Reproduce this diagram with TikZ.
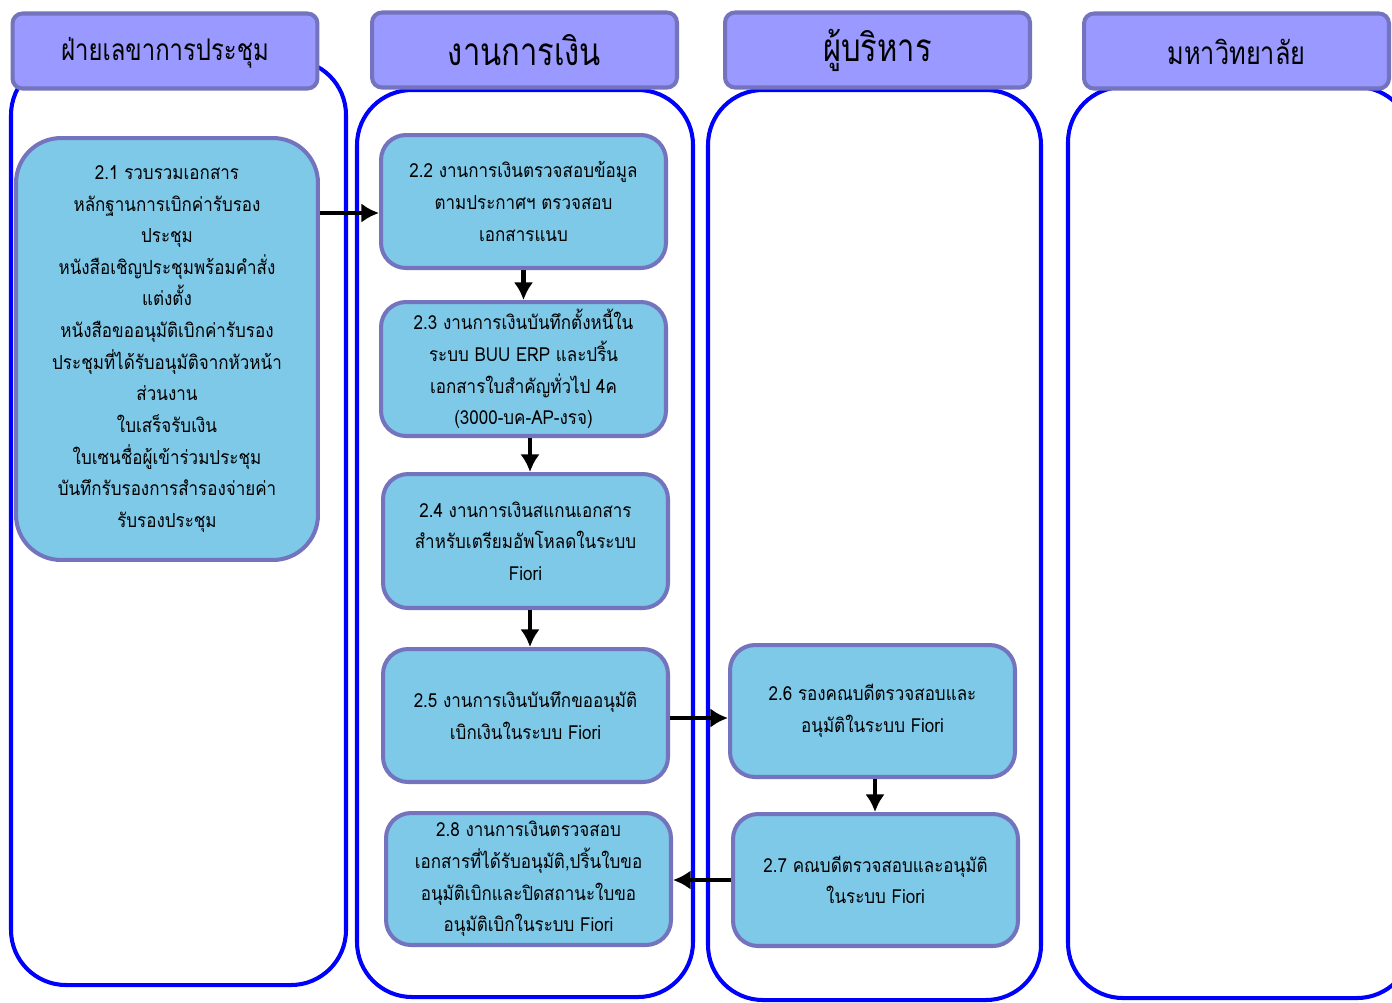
\documentclass[tikz,border=0pt]{standalone}
\usepackage{fontspec}
\setmainfont[Script=Thai, FakeStretch=0.88]{Loma}
\newfontfamily\headfont[Script=Thai, FakeStretch=0.8]{Loma}
\usepackage{tikz}
\usetikzlibrary{arrows.meta}

\definecolor{taskfill}{RGB}{126,200,232}
\definecolor{taskline}{RGB}{115,115,190}
\definecolor{headfill}{RGB}{153,153,255}
\definecolor{laneline}{RGB}{0,0,255}

\begin{document}
\begin{tikzpicture}[x=0.02cm, y=-0.02cm, >={Latex[length=10pt,width=11pt]},
    lane/.style={draw=laneline, line width=2.3pt, rounded corners=1.1cm},
    head/.style={rectangle, draw=taskline, fill=headfill, line width=2.3pt, rounded corners=0.2cm, minimum width=6.1cm, minimum height=1.5cm, align=center},
    task/.style={rectangle, draw=taskline, fill=taskfill, line width=2.3pt, rounded corners=0.5cm, minimum width=5.7cm, minimum height=2.6cm, align=center, font=\fontsize{11}{18}\selectfont},
    arr/.style={->, line width=2.5pt}]

    \useasboundingbox (0,0) rectangle (1392,1002);
    \clip (0,0) rectangle (1392,1002);

    % Swim lanes first (behind everything)
    \draw[lane] (11,60) rectangle (346,985);
    \draw[lane] (357,90) rectangle (693,997);
    \draw[lane] (708,90) rectangle (1041,1000);
    \draw[lane] (1068,87) rectangle (1412,998);

    % Lane headers
    \node[head, text height=0.55cm, font=\headfont\fontsize{17}{20}\selectfont] (hsec) at (165,51) {ฝ่ายเลขาการประชุม};
    \node[head, font=\headfont\fontsize{22}{24}\selectfont] (hfin) at (524.5,50) {งานการเงิน};
    \node[head, font=\headfont\fontsize{22}{24}\selectfont] (hexe) at (877.5,50) {ผู้บริหาร};
    \node[head, text height=0.55cm, font=\headfont\fontsize{18}{20}\selectfont] (huni) at (1236.5,51) {มหาวิทยาลัย};

    % Steps
    \node[task, rounded corners=0.9cm, minimum width=6.04cm, minimum height=8.44cm] (s21) at (167,349) {2.1 รวบรวมเอกสาร\\หลักฐานการเบิกค่ารับรอง\\ประชุม\\หนังสือเชิญประชุมพร้อมคำสั่ง\\แต่งตั้ง\\หนังสือขออนุมัติเบิกค่ารับรอง\\ประชุมที่ได้รับอนุมัติจากหัวหน้า\\ส่วนงาน\\ใบเสร็จรับเงิน\\ใบเซนชื่อผู้เข้าร่วมประชุม\\บันทึกรับรองการสำรองจ่ายค่า\\รับรองประชุม};
    \node[task, minimum height=2.66cm] (s22) at (523.5,201.5) {2.2 งานการเงินตรวจสอบข้อมูล\\ตามประกาศฯ ตรวจสอบ\\เอกสารแนบ};
    \node[task, minimum height=2.68cm] (s23) at (523.5,369) {2.3 งานการเงินบันทึกตั้งหนี้ใน\\ระบบ BUU ERP และปริ้น\\เอกสารใบสำคัญทั่วไป 4ค\\(3000-บค-AP-งรจ)};
    \node[task, minimum height=2.68cm] (s24) at (525.5,541) {2.4 งานการเงินสแกนเอกสาร\\สำหรับเตรียมอัพโหลดในระบบ\\Fiori};
    \node[task, minimum height=2.66cm] (s25) at (525.5,715.5) {2.5 งานการเงินบันทึกขออนุมัติ\\เบิกเงินในระบบ Fiori};
    \node[task, minimum height=2.64cm] (s26) at (872.5,711) {2.6 รองคณบดีตรวจสอบและ\\อนุมัติในระบบ Fiori};
    \node[task, minimum height=2.64cm] (s27) at (875.5,880) {2.7 คณบดีตรวจสอบและอนุมัติ\\ในระบบ Fiori};
    \node[task, minimum height=2.64cm] (s28) at (528.5,879) {2.8 งานการเงินตรวจสอบ\\เอกสารที่ได้รับอนุมัติ,ปริ้นใบขอ\\อนุมัติเบิกและปิดสถานะใบขอ\\อนุมัติเบิกในระบบ Fiori};

    % Flow arrows
    \draw[arr] ([yshift=-0.23cm]s21.east |- s22.west) -- ([yshift=-0.23cm]s22.west);
    \draw[arr] (s22.south) -- (s22.south |- s23.north);
    \draw[arr] ([xshift=0.13cm]s23.south) -- ([xshift=0.13cm]s23.south |- s24.north);
    \draw[arr] ([xshift=0.09cm]s24.south) -- ([xshift=0.09cm]s24.south |- s25.north);
    \draw[arr] ([yshift=-0.05cm]s25.east) -- ([yshift=-0.05cm]s25.east -| s26.west);
    \draw[arr] ([xshift=0.05cm]s26.south) -- ([xshift=0.05cm]s26.south |- s27.north);
    \draw[arr] (s27.west) -- (s27.west -| s28.east);
\end{tikzpicture}
\end{document}
